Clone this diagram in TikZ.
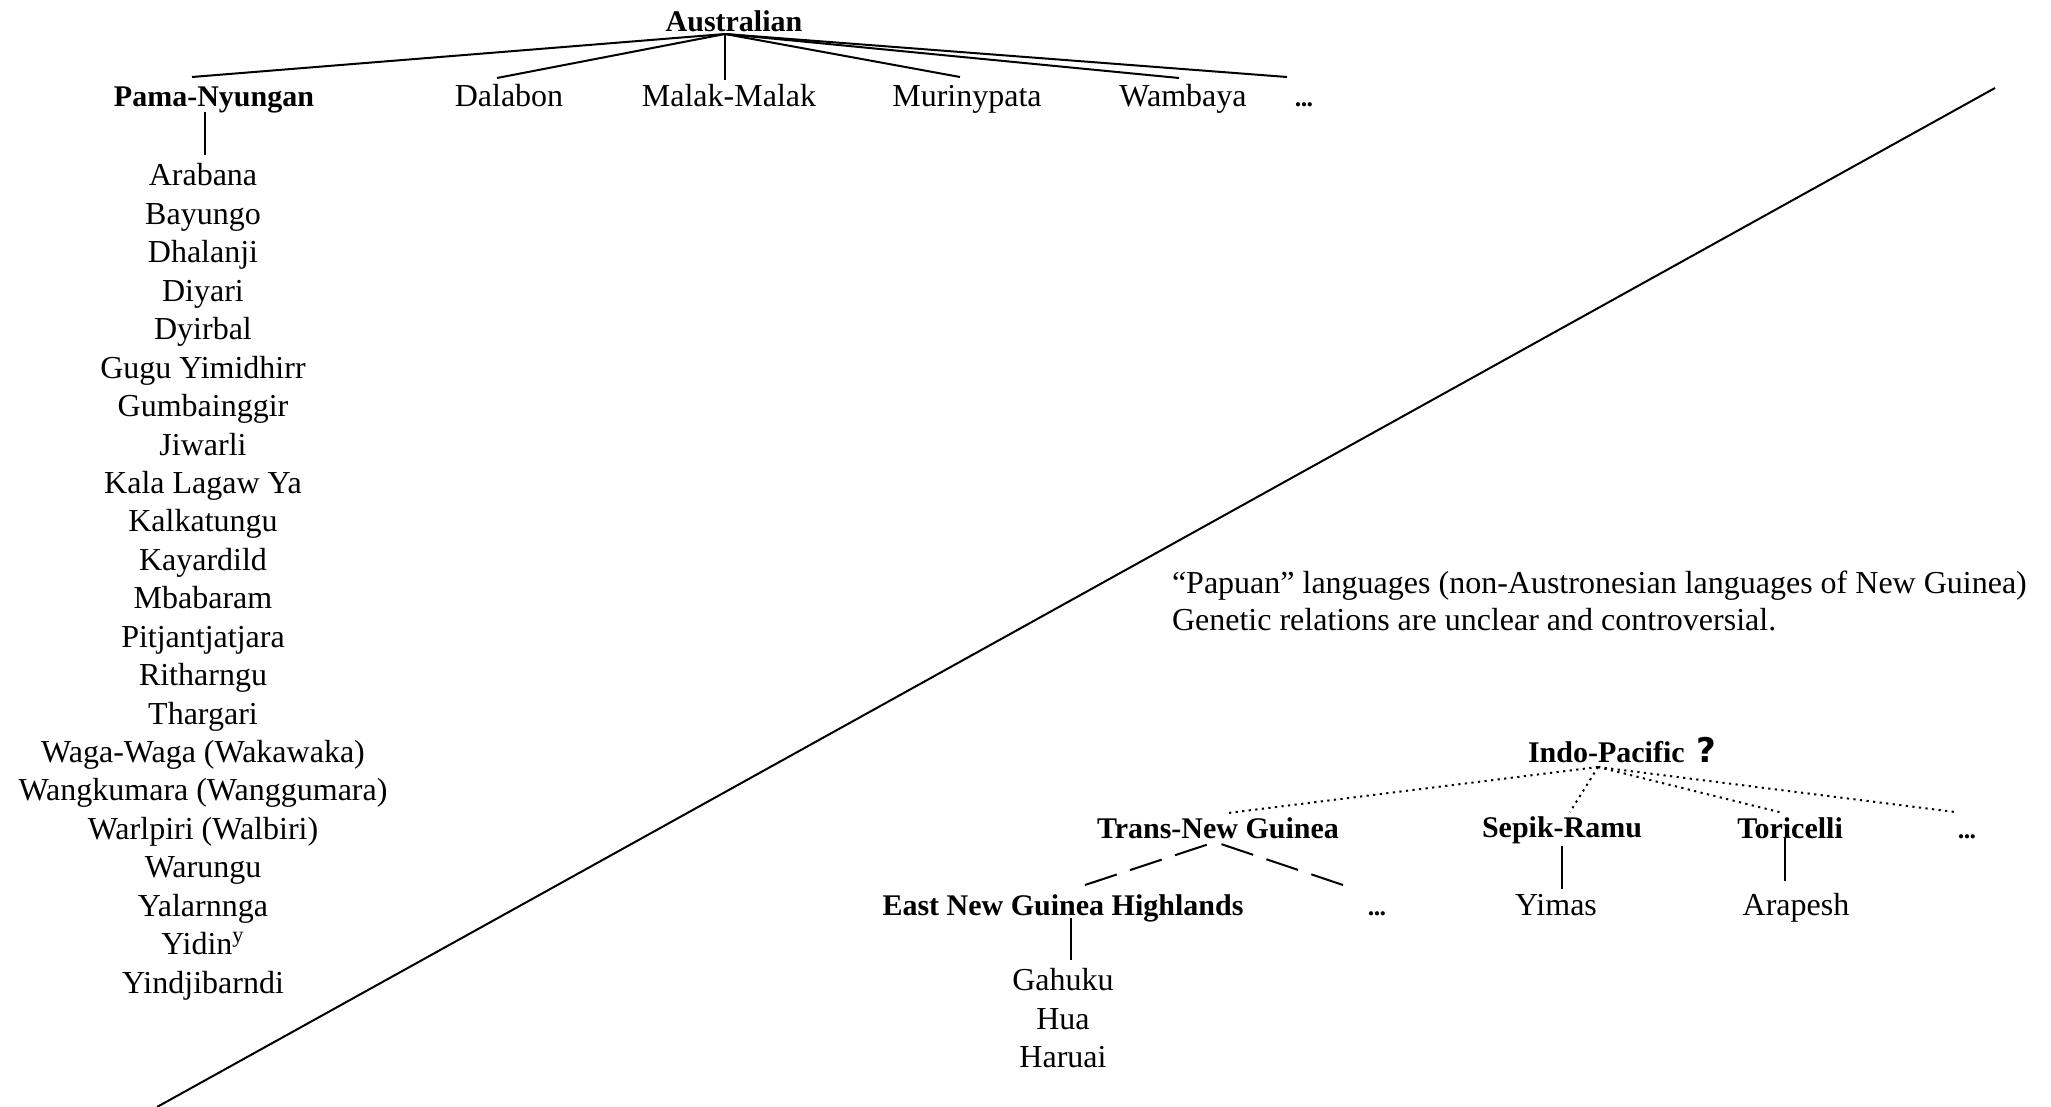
\documentclass[tikz,border=0pt]{standalone}
\usepackage{fontspec}
\setmainfont{Liberation Serif}
\newfontfamily\qfont{DejaVu Sans}
\newcommand{\moredots}{{\fontsize{13}{15}\selectfont\bfseries .\kern-0.3pt.\kern-0.3pt.}}
\begin{document}
\begin{tikzpicture}[x=0.5pt,y=-0.5pt,
  every node/.style={inner sep=0pt,outer sep=0pt,anchor=base,font=\fontsize{16}{19}\selectfont},
  lang/.style={},
  group/.style={font=\fontsize{15}{18}\selectfont\bfseries},
  branch/.style={line width=1pt},
  stem/.style={line width=0.8pt},
  doubtful/.style={line width=1pt,dash pattern=on 1.1pt off 2.2pt},
  partial/.style={line width=1pt,dash pattern=on 16.7pt off 7pt},
  divider/.style={line width=1pt}]
\useasboundingbox (0,0) rectangle (2051,1107);

% ---- Australian family ----
\node[group] (aus) at (734,32) {Australian};
\coordinate (ausroot) at (725,34);

\node[group] (pn)  at (214,107) {Pama-Nyungan};
\node[lang]  (dal) at (509,107) {Dalabon};
\node[lang]  (mal) at (729,107) {Malak-Malak};
\node[lang]  (mur) at (967,107) {Murinypata};
\node[lang]  (wam) at (1183,107) {Wambaya};
\node[lang]  (ausmore) at (1304,107) {\moredots};

\coordinate (pnTop)  at (192,77);
\coordinate (dalTop) at (497,78);
\coordinate (malTop) at (725,80);
\coordinate (murTop) at (960,77);
\coordinate (wamTop) at (1179,78);
\coordinate (moreTop) at (1287,77);

\draw[branch] (ausroot) -- (pnTop);
\draw[branch] (ausroot) -- (dalTop);
\draw[stem]   (ausroot) -- (malTop);
\draw[branch] (ausroot) -- (murTop);
\draw[branch] (ausroot) -- (wamTop);
\draw[branch] (ausroot) -- (moreTop);

% Pama-Nyungan members
\coordinate (pnStemA) at (205,112);
\coordinate (pnStemB) at (205,155);
\draw[stem] (pnStemA) -- (pnStemB);

\foreach \name [count=\i from 0] in {Arabana,Bayungo,Dhalanji,Diyari,Dyirbal,
  Gugu Yimidhirr,Gumbainggir,Jiwarli,Kala Lagaw Ya,Kalkatungu,Kayardild,
  Mbabaram,Pitjantjatjara,Ritharngu,Thargari,Waga-Waga (Wakawaka),
  Wangkumara (Wanggumara),Warlpiri (Walbiri),Warungu,Yalarnnga,
  Yidin\textsuperscript{y},Yindjibarndi}
  \node[lang] (pnm\i) at (203,{186+38.43*\i}) {\name};

% ---- dividing line ----
\coordinate (divA) at (157,1107);
\coordinate (divB) at (1995,88);
\draw[divider] (divA) -- (divB);

% ---- Papuan note ----
\node[anchor=base west] (note1) at (1172,593) {“Papuan” languages (non-Austronesian languages of New Guinea)};
\node[anchor=base west] (note2) at (1172,630) {Genetic relations are unclear and controversial.};

% ---- Indo-Pacific ----
\node[group,anchor=base west] (ip) at (1528,762) {Indo-Pacific\hspace{6pt}{\qfont\fontsize{17}{19}\selectfont ?}};
\coordinate (iproot) at (1598,767);

\node[group] (tng) at (1218,838) {Trans-New Guinea};
\node[group] (sr)  at (1562,837) {Sepik-Ramu};
\node[group] (tor) at (1790,838) {Toricelli};
\node[lang]  (ipmore) at (1967,838) {\moredots};

\coordinate (tngTop) at (1228,813);
\coordinate (srTop)  at (1570,812);
\coordinate (torTop) at (1783,813);
\coordinate (ipmoreTop) at (1955,812);

\draw[doubtful] (iproot) -- (tngTop);
\draw[doubtful] (iproot) -- (srTop);
\draw[doubtful] (iproot) -- (torTop);
\draw[doubtful] (iproot) -- (ipmoreTop);

% Trans-New Guinea
\coordinate (tngroot) at (1215,842);
\node[group] (engh) at (1063,915) {East New Guinea Highlands};
\node[lang]  (tngmore) at (1377,915) {\moredots};
\coordinate (enghTop) at (1085,885);
\coordinate (tngmoreTop) at (1343,885);
\draw[partial] (enghTop) -- (tngroot);
\draw[partial] (tngmoreTop) -- (tngroot);

\coordinate (enghStemA) at (1071,918);
\coordinate (enghStemB) at (1071,960);
\draw[stem] (enghStemA) -- (enghStemB);
\node[lang] (gah) at (1063,990) {Gahuku};
\node[lang] (hua) at (1063,1029) {Hua};
\node[lang] (har) at (1063,1067) {Haruai};

% Sepik-Ramu
\coordinate (srStemA) at (1562,846);
\coordinate (srStemB) at (1562,889);
\draw[stem] (srStemA) -- (srStemB);
\node[lang] (yim) at (1556,915) {Yimas};

% Toricelli
\coordinate (torStemA) at (1785,837);
\coordinate (torStemB) at (1785,881);
\draw[stem] (torStemA) -- (torStemB);
\node[lang] (ara) at (1796,915) {Arapesh};
\end{tikzpicture}
\end{document}
